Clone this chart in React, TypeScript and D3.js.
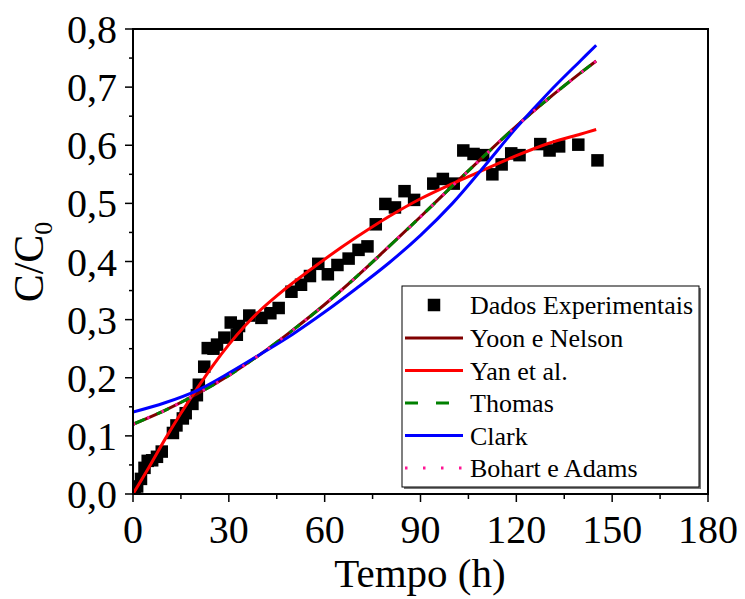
import React from 'react';
import * as d3 from 'd3';

const expTime = [0.5, 1.3, 2.5, 3.6, 4.6, 6, 7.5, 9, 12.5, 13.6, 15.6, 16.5, 18.6, 20, 20.6, 22.3, 23.4, 25.2, 26.3, 28.6, 30.6, 32.5, 33.2, 36.4, 40.2, 43, 45.6, 49.6, 52.6, 55.4, 58, 61, 64, 67.5, 70.6, 73.4, 76, 79, 82, 85, 88, 94, 97, 100.4, 103.4, 106.6, 109.6, 112.5, 115.4, 118.4, 121, 127.5, 130.4, 133.4, 139.4, 145.4];
const expValue = [0.004, 0.013, 0.026, 0.045, 0.057, 0.058, 0.064, 0.073, 0.105, 0.118, 0.130, 0.139, 0.155, 0.170, 0.188, 0.219, 0.251, 0.250, 0.257, 0.269, 0.295, 0.274, 0.289, 0.307, 0.303, 0.311, 0.320, 0.348, 0.360, 0.375, 0.396, 0.378, 0.394, 0.405, 0.420, 0.426, 0.464, 0.499, 0.493, 0.521, 0.506, 0.534, 0.542, 0.534, 0.591, 0.585, 0.583, 0.550, 0.567, 0.586, 0.583, 0.602, 0.591, 0.598, 0.601, 0.574];

const fitTime = [0, 10, 20, 30, 40, 50, 60, 70, 80, 90, 100, 110, 120, 130, 140, 145];
const yoonNelson = [0.120, 0.144, 0.172, 0.204, 0.241, 0.282, 0.326, 0.374, 0.425, 0.477, 0.530, 0.582, 0.633, 0.680, 0.724, 0.745];
const thomas = [0.120, 0.144, 0.172, 0.204, 0.241, 0.282, 0.326, 0.374, 0.425, 0.477, 0.530, 0.582, 0.633, 0.680, 0.724, 0.745];
const bohartAdams = [0.120, 0.144, 0.172, 0.204, 0.241, 0.282, 0.326, 0.374, 0.425, 0.477, 0.530, 0.582, 0.633, 0.680, 0.724, 0.745];
const clark = [0.141, 0.157, 0.178, 0.208, 0.241, 0.275, 0.313, 0.354, 0.397, 0.445, 0.500, 0.564, 0.630, 0.690, 0.745, 0.772];

const yanTime = [0, 5, 10, 15, 20, 25, 30, 35, 40, 45, 50, 60, 70, 80, 90, 100, 110, 120, 130, 140, 145];
const yanEtAl = [0.0, 0.046, 0.094, 0.139, 0.181, 0.221, 0.257, 0.289, 0.317, 0.341, 0.363, 0.404, 0.442, 0.477, 0.508, 0.534, 0.558, 0.582, 0.603, 0.619, 0.627];

const xTicks = [0, 30, 60, 90, 120, 150, 180];
const xMinorTicks = [15, 45, 75, 105, 135, 165];
const yTicks = [0, 0.1, 0.2, 0.3, 0.4, 0.5, 0.6, 0.7, 0.8];
const yTickLabels = ['0,0', '0,1', '0,2', '0,3', '0,4', '0,5', '0,6', '0,7', '0,8'];
const yMinorTicks = [0.05, 0.15, 0.25, 0.35, 0.45, 0.55, 0.65, 0.75];

const legendLabels = ['Dados Experimentais', 'Yoon e Nelson', 'Yan et al.', 'Thomas', 'Clark', 'Bohart e Adams'];

const FONT = '"Liberation Serif", "Times New Roman", serif';

export default function App() {
  const W = 745, H = 599;
  const L = 133, R = 708, T = 29, B = 494;
  const x = d3.scaleLinear().domain([0, 180]).range([L, R]);
  const y = d3.scaleLinear().domain([0, 0.8]).range([B, T]);

  const mk = (ts: number[], vs: number[]) =>
    d3.line<number>().x((_, i) => x(ts[i])).y((v) => y(v)).curve(d3.curveCatmullRom.alpha(0.5))(vs) || '';

  const series = [
    { d: mk(fitTime, yoonNelson), color: '#800000', dash: undefined as string | undefined, w: 3 },
    { d: mk(yanTime, yanEtAl), color: '#ff0000', dash: undefined, w: 3 },
    { d: mk(fitTime, thomas), color: '#008000', dash: '13,13', w: 3 },
    { d: mk(fitTime, clark), color: '#0000ff', dash: undefined, w: 3 },
    { d: mk(fitTime, bohartAdams), color: '#ff1493', dash: '2.5,13', w: 3 },
  ];

  const sq = 12.5;
  const lgX = 402, lgY = 286, lgW = 297, lgH = 201;
  const rowY = [305, 338, 370.5, 403, 435.5, 468];
  const legendStyles = [
    null,
    { color: '#800000', dash: undefined as string | undefined },
    { color: '#ff0000', dash: undefined },
    { color: '#008000', dash: '13,18' },
    { color: '#0000ff', dash: undefined },
    { color: '#ff1493', dash: '2.5,15.5' },
  ];

  return (
    <svg width={W} height={H} style={{ position: 'absolute', left: 0, top: 0, background: '#fff' }} fontFamily={FONT}>
      <rect x={0} y={0} width={W} height={H} fill="#fff" />
      <defs>
        <clipPath id="plotclip">
          <rect x={L} y={T} width={R - L} height={B - T} />
        </clipPath>
      </defs>

      {/* data */}
      <g clipPath="url(#plotclip)">
        {expTime.map((t, i) => (
          <rect key={i} x={x(t) - sq / 2} y={y(expValue[i]) - sq / 2} width={sq} height={sq} fill="#000" />
        ))}
        {series.map((s, i) => (
          <path key={i} d={s.d} fill="none" stroke={s.color} strokeWidth={s.w} strokeDasharray={s.dash} />
        ))}
      </g>

      {/* legend */}
      <rect x={lgX + 2} y={lgY + 2} width={lgW} height={lgH} fill="#777" />
      <rect x={lgX} y={lgY} width={lgW} height={lgH} fill="#fff" stroke="#000" strokeWidth={1} />
      {legendLabels.map((lab, i) => {
        const st = legendStyles[i];
        return (
          <g key={i}>
            {st === null ? (
              <rect x={434 - sq / 2} y={rowY[i] - sq / 2} width={sq} height={sq} fill="#000" />
            ) : (
              <line x1={405} x2={463} y1={rowY[i]} y2={rowY[i]} stroke={st.color} strokeWidth={3} strokeDasharray={st.dash} />
            )}
            <text x={470} y={rowY[i] + 9} fontSize={26} fill="#000">{lab}</text>
          </g>
        );
      })}

      {/* frame */}
      <rect x={L} y={T} width={R - L} height={B - T} fill="none" stroke="#000" strokeWidth={2} />

      {/* x ticks */}
      {xTicks.map((t, i) => (
        <g key={'xt' + i}>
          <line x1={x(t)} x2={x(t)} y1={B} y2={B + 8} stroke="#000" strokeWidth={1.5} />
          <text x={x(t)} y={543} fontSize={40} textAnchor="middle" fill="#000">{t}</text>
        </g>
      ))}
      {xMinorTicks.map((t, i) => (
        <line key={'xm' + i} x1={x(t)} x2={x(t)} y1={B} y2={B + 5} stroke="#000" strokeWidth={1.5} />
      ))}

      {/* y ticks */}
      {yTicks.map((v, i) => (
        <g key={'yt' + i}>
          <line x1={L - 8} x2={L} y1={y(v)} y2={y(v)} stroke="#000" strokeWidth={1.5} />
          <text x={117} y={y(v) + 14} fontSize={40} textAnchor="end" fill="#000">{yTickLabels[i]}</text>
        </g>
      ))}
      {yMinorTicks.map((v, i) => (
        <line key={'ym' + i} x1={L - 4} x2={L} y1={y(v)} y2={y(v)} stroke="#000" strokeWidth={1.5} />
      ))}

      {/* axis titles */}
      <text x={420} y={587} fontSize={41} textAnchor="middle" fill="#000">Tempo (h)</text>
      <text transform="translate(43,262) rotate(-90)" fontSize={42} textAnchor="middle" fill="#000">
        C/C<tspan fontSize={26} dy={9}>0</tspan>
      </text>
    </svg>
  );
}
